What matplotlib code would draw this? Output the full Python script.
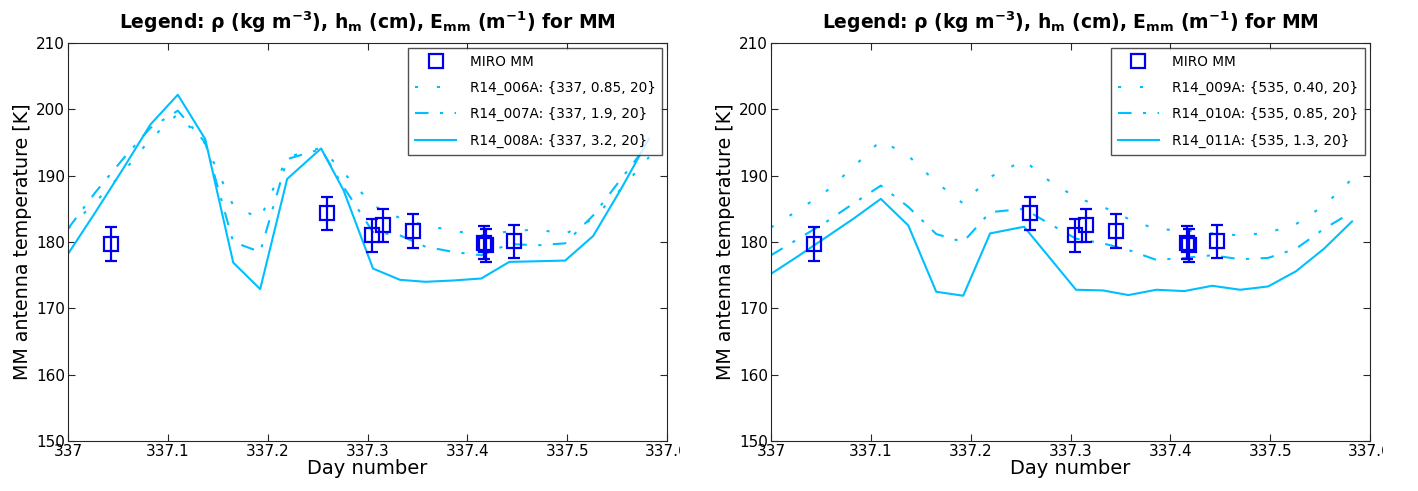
import numpy as np
import matplotlib
matplotlib.use('Agg')
import matplotlib.pyplot as plt
from matplotlib.transforms import Bbox, TransformedBbox

plt.rcParams['font.family'] = 'DejaVu Sans'
plt.rcParams['mathtext.default'] = 'regular'

# model time grid (day number)
t_model = [337.000, 337.0275, 337.055, 337.0825, 337.110, 337.1375, 337.1655, 337.1925,
           337.2195, 337.2535, 337.276, 337.3055, 337.3325, 337.358, 337.386, 337.414,
           337.442, 337.470, 337.498, 337.526, 337.554, 337.582]

# rho = 337 kg m-3 runs
r006 = [182.0, 186.0, 190.5, 195.5, 199.3, 194.8, 185.5, 183.5, 192.8, 194.2, 190.5,
        185.5, 183.6, 182.5, 181.7, 181.0, 181.6, 181.9, 181.2, 183.5, 188.0, 192.8]
r007 = [182.0, 187.5, 192.5, 197.2, 199.8, 195.0, 180.0, 178.5, 192.5, 194.0, 188.3,
        181.5, 181.0, 179.3, 178.5, 178.0, 179.7, 179.5, 179.8, 184.0, 189.5, 195.0]
r008 = [178.2, 184.5, 191.0, 197.7, 202.2, 195.5, 176.9, 172.9, 189.5, 194.1, 187.8,
        176.0, 174.3, 174.0, 174.2, 174.5, 177.0, 177.1, 177.2, 180.9, 188.0, 195.6]

# rho = 535 kg m-3 runs
r009 = [182.2, 184.8, 187.6, 191.3, 195.3, 193.0, 189.0, 185.8, 189.8, 192.3, 189.5,
        186.7, 185.3, 183.5, 181.9, 181.8, 181.3, 181.0, 181.4, 182.7, 185.5, 189.5]
r010 = [178.0, 180.5, 183.0, 185.8, 188.5, 185.3, 181.2, 180.0, 184.5, 185.0, 183.0,
        180.5, 179.8, 178.8, 177.3, 177.6, 178.0, 177.4, 177.6, 179.0, 182.0, 184.5]
r011 = [175.2, 177.9, 180.7, 183.5, 186.5, 182.5, 172.5, 171.9, 181.3, 182.3, 178.2,
        172.8, 172.7, 172.0, 172.8, 172.6, 173.4, 172.8, 173.3, 175.6, 179.0, 183.1]

# MIRO millimetre channel measurements
t_miro = [337.043, 337.2595, 337.3045, 337.3155, 337.3455, 337.417, 337.419, 337.447]
tb_miro = [179.7, 184.3, 181.0, 182.5, 181.6, 179.9, 179.5, 180.1]
err_miro = [2.5, 2.45, 2.5, 2.5, 2.55, 2.5, 2.5, 2.5]

panels = [
    ([r006, r007, r008],
     ['R14_006A: {337, 0.85, 20}', 'R14_007A: {337, 1.9, 20}', 'R14_008A: {337, 3.2, 20}']),
    ([r009, r010, r011],
     ['R14_009A: {535, 0.40, 20}', 'R14_010A: {535, 0.85, 20}', 'R14_011A: {535, 1.3, 20}']),
]

xticks = [337, 337.1, 337.2, 337.3, 337.4, 337.5, 337.6]
xticklabels = ['337', '337.1', '337.2', '337.3', '337.4', '337.5', '337.6']
yticks = [150, 160, 170, 180, 190, 200, 210]

line_col = '#00BFFF'
styles = [(0, (1.5, 9.0)), (0, (6.5, 5.5, 1.5, 5.5)), '-']

fig = plt.figure(figsize=(14.18, 4.91), dpi=100)
W, H = 1418.0, 491.0
lefts = [68, 771]

for k, (series, labels) in enumerate(panels):
    x0 = lefts[k]
    ax = fig.add_axes([x0 / W, 1 - 441 / H, 599 / W, 398 / H])

    ax.plot(t_miro, tb_miro, 's', ms=9.5, mfc='none', mec='#0000EE', mew=1.6,
            label='MIRO MM', zorder=4)
    for y, lab, ls in zip(series, labels, styles):
        ax.plot(t_model, y, color=line_col, lw=1.5, linestyle=ls, label=lab)
    ax.errorbar(t_miro, tb_miro, yerr=err_miro, fmt='none', ecolor='#0000EE',
                elinewidth=1.6, capsize=4, capthick=1.6, zorder=4)

    ax.set_xlim(337, 337.6)
    ax.set_ylim(150, 210)
    ax.set_xticks(xticks)
    ax.set_xticklabels(xticklabels)
    ax.set_yticks(yticks)
    ax.tick_params(direction='in', top=True, right=True, length=5, width=0.8,
                   labelsize=11, pad=2, colors='#262626', labelcolor='black')
    for s in ax.spines.values():
        s.set_color('#262626')
        s.set_linewidth(0.8)

    ax.set_xlabel('Day number', fontsize=14, labelpad=0)
    ax.set_ylabel('MM antenna temperature [K]', fontsize=13.7, labelpad=3)
    ax.set_title(r'Legend: ρ (kg m$^{-3}$), h$_m$ (cm), E$_{mm}$ (m$^{-1}$) for MM',
                 fontsize=13.5, fontweight='bold', pad=10)

    leg = ax.legend(loc='upper right', fontsize=9.8, frameon=True, fancybox=False,
                    edgecolor='#262626', handlelength=3.0, labelspacing=0.9,
                    borderaxespad=0.35, borderpad=0.5, handletextpad=1.0)
    leg.get_frame().set_linewidth(1.0)

    # the last tick label is cut off at the panel edge
    last = ax.get_xticklabels()[-1]
    last.set_clip_box(TransformedBbox(Bbox([[0, 0], [(x0 + 612) / W, 1]]), fig.transFigure))
    last.set_clip_on(True)

fig.savefig('out.png', dpi=100)
